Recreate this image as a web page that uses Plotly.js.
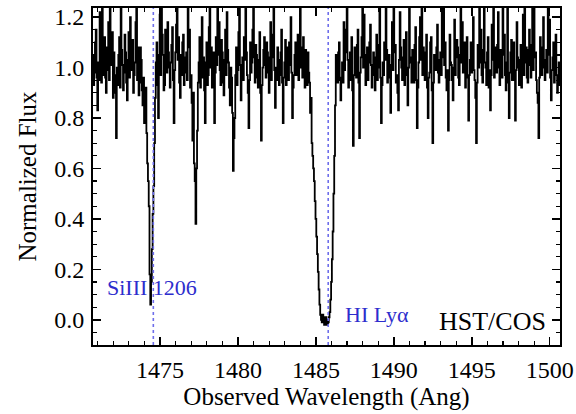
<!DOCTYPE html>
<html>
<head>
<meta charset="utf-8">
<script src="https://cdn.plot.ly/plotly-3.0.1.min.js"></script>
<style>html,body{margin:0;padding:0;background:#fff;}#chart{width:576px;height:414px;}</style>
</head>
<body>
<div id="chart"></div>
<script>
// Spectrum pixel grid (start wavelength and step, Angstrom)
const waveStart = 1470.7;
const waveStep = 0.05;
// Normalized flux, one row per Angstrom (20 pixels)
const flux = [
  1.05, 0.93, 0.98, 1.10, 1.15, 0.96, 0.83, 1.02, 0.95, 1.22, 1.10, 0.94, 1.28, 0.97, 1.02, 1.12, 0.96, 0.90, 1.08, 0.99,
  1.18, 0.95, 1.28, 1.01, 1.04, 1.14, 0.88, 1.06, 0.97, 0.90, 0.72, 1.00, 0.93, 1.05, 1.12, 0.92, 1.28, 1.07, 1.01, 0.91,
  0.98, 1.13, 1.06, 0.94, 0.87, 1.03, 1.14, 0.96, 1.20, 1.04, 0.99, 1.11, 0.90, 0.97, 1.02, 1.18, 1.28, 0.95, 1.08, 0.89,
  0.94, 1.08, 1.03, 0.91, 0.85, 0.96, 0.78, 0.88, 0.92, 0.74, 0.62, 0.55, 0.45, 0.18, 0.06, 0.15, 0.28, 0.42, 0.53, 0.70,
  0.88, 1.02, 1.10, 0.93, 0.80, 1.05, 1.21, 0.97, 1.28, 1.13, 1.05, 0.91, 0.93, 1.15, 1.09, 0.98, 1.18, 1.06, 1.00, 0.92,
  1.02, 1.09, 1.16, 0.95, 0.78, 0.99, 1.06, 1.17, 1.28, 1.03, 1.12, 0.94, 0.88, 1.05, 0.97, 1.10, 1.13, 0.93, 1.04, 0.98,
  1.06, 0.95, 1.28, 1.08, 1.15, 0.92, 0.97, 0.86, 0.71, 0.90, 0.62, 0.55, 0.38, 0.60, 0.75, 0.94, 1.02, 1.12, 0.92, 1.04,
  1.20, 0.96, 1.04, 0.91, 0.78, 1.02, 1.10, 0.93, 0.97, 1.16, 1.28, 1.00, 1.08, 0.92, 0.95, 1.06, 0.78, 0.98, 1.12, 1.01,
  1.28, 1.05, 1.18, 0.99, 0.93, 1.11, 1.06, 0.94, 0.89, 1.03, 1.15, 0.97, 1.22, 1.07, 1.02, 0.92, 0.85, 1.00, 0.96, 0.82,
  0.59, 0.72, 0.80, 0.97, 1.08, 0.93, 0.99, 1.14, 1.28, 1.01, 0.87, 0.98, 1.04, 0.95, 1.12, 1.03, 1.28, 1.06, 0.97, 0.90,
  0.76, 0.95, 1.10, 0.98, 1.02, 1.15, 1.28, 1.04, 0.94, 1.09, 1.05, 0.96, 0.92, 1.03, 1.14, 0.90, 0.71, 0.93, 1.00, 1.07,
  1.12, 1.01, 0.96, 1.10, 1.06, 0.98, 0.90, 1.04, 1.18, 0.95, 1.04, 1.13, 1.28, 0.99, 0.84, 1.00, 0.95, 1.08, 1.03, 0.93,
  0.97, 1.06, 1.15, 0.94, 0.78, 0.96, 1.02, 1.11, 0.93, 0.99, 1.08, 0.95, 1.10, 1.01, 1.20, 0.98, 0.80, 0.92, 0.97, 1.05,
  1.10, 0.97, 1.05, 1.13, 0.95, 1.04, 1.28, 1.00, 1.08, 0.96, 1.12, 1.02, 0.92, 1.07, 0.99, 0.93, 1.06, 0.98, 0.94, 0.82,
  0.88, 0.70, 0.65, 0.60, 0.55, 0.47, 0.40, 0.33, 0.26, 0.19, 0.12, 0.06, 0.02, 0.00, -0.01, 0.02, 0.01, -0.02, -0.02, 0.01,
  0.00, -0.02, -0.01, 0.01, 0.03, 0.08, 0.15, 0.24, 0.35, 0.50, 0.65, 0.85, 1.05, 0.98, 0.94, 1.06, 1.10, 0.95, 0.87, 0.96,
  1.02, 0.94, 1.18, 0.99, 1.06, 1.15, 1.28, 1.03, 0.92, 0.98, 1.06, 0.95, 1.12, 0.91, 0.69, 0.97, 1.08, 1.01, 0.96, 1.09,
  1.15, 0.94, 0.72, 0.98, 1.04, 1.12, 1.28, 1.00, 1.21, 1.05, 0.93, 0.99, 1.08, 0.95, 1.02, 1.10, 1.17, 1.01, 0.92, 0.97,
  1.06, 0.98, 0.91, 1.04, 1.13, 0.95, 1.00, 1.09, 1.28, 0.96, 0.78, 0.93, 1.02, 0.97, 1.10, 1.03, 1.28, 1.07, 0.94, 1.00,
  1.05, 0.96, 0.82, 1.01, 1.18, 0.99, 1.28, 1.06, 1.09, 0.94, 0.97, 0.90, 0.83, 1.03, 1.22, 1.08, 1.00, 0.95, 1.04, 1.11,
  0.93, 1.02, 1.14, 0.97, 0.85, 1.00, 1.28, 1.04, 1.02, 0.94, 1.07, 0.98, 0.94, 1.09, 1.16, 0.95, 0.76, 0.92, 1.02, 1.12,
  1.20, 1.03, 1.28, 0.97, 1.08, 1.00, 0.95, 1.06, 1.13, 0.92, 0.80, 0.96, 0.98, 1.10, 1.12, 0.91, 0.70, 0.94, 1.05, 1.01,
  0.99, 1.08, 1.17, 0.98, 0.94, 1.03, 1.06, 0.97, 1.28, 1.04, 1.28, 1.01, 1.10, 0.96, 0.91, 0.99, 0.75, 0.95, 1.13, 1.02,
  1.01, 0.95, 0.87, 1.00, 1.19, 0.97, 1.04, 1.11, 1.08, 0.96, 0.93, 1.05, 1.28, 1.02, 1.18, 0.98, 1.05, 1.10, 0.92, 1.03,
  1.12, 0.96, 0.79, 0.97, 1.03, 1.10, 0.98, 1.05, 1.20, 0.99, 0.95, 0.88, 0.70, 0.94, 1.09, 1.00, 1.28, 1.02, 1.15, 0.97,
  0.94, 1.07, 1.28, 1.02, 1.00, 0.93, 1.06, 1.12, 0.92, 0.99, 0.83, 0.97, 1.17, 1.03, 1.28, 0.96, 1.08, 1.01, 0.98, 1.09,
  1.22, 1.00, 0.93, 1.07, 1.04, 0.96, 1.28, 1.05, 1.13, 0.97, 0.91, 1.02, 1.28, 0.94, 0.80, 0.98, 1.06, 1.11, 0.95, 1.03,
  1.10, 0.95, 0.79, 0.99, 1.18, 1.04, 1.00, 0.93, 1.03, 1.09, 0.92, 1.01, 1.21, 0.97, 1.28, 1.02, 1.08, 0.96, 0.94, 1.07,
  1.15, 1.01, 0.96, 1.09, 1.28, 0.99, 1.28, 1.04, 1.06, 0.95, 0.90, 0.86, 0.72, 0.96, 1.12, 1.03, 0.97, 1.08, 1.20, 1.00,
  0.95, 1.03, 1.07, 0.98, 1.28, 1.05, 1.19, 0.96, 0.87, 0.99, 1.04, 1.10, 0.94, 1.02, 1.13, 0.97, 0.90, 0.96, 1.02, 0.93,
  0.95
];
// Marked transitions (observed wavelength) and labels
const lineWaves = [1474.57, 1485.79];
const lineLabels = ["SiIII 1206", "HI Ly\u03b1"];
const labelWaves = [1474.5, 1488.9];
const labelFlux = [0.127, 0.02];
const instrument = "HST/COS";
const instrumentPos = [1496.35, -0.005];

const wave = flux.map((_, i) => +(waveStart + i * waveStep).toFixed(2));

const serif = "Liberation Serif, Times New Roman, serif";
const blue = "rgb(45,45,205)";

const shapes = lineWaves.map(w => ({
  type: "line", xref: "x", yref: "paper", x0: w, x1: w, y0: 0, y1: 1,
  line: {color: "rgb(110,110,235)", width: 1.6, dash: "dot"}, layer: "above"
}));

const annotations = lineLabels.map((t, i) => ({
  x: labelWaves[i], y: labelFlux[i], xref: "x", yref: "y", text: t,
  showarrow: false, font: {family: serif, size: 22, color: blue}
}));
annotations.push({
  x: instrumentPos[0], y: instrumentPos[1], xref: "x", yref: "y", text: instrument,
  showarrow: false, font: {family: serif, size: 26, color: "#000"}
});

const trace = {
  x: wave, y: flux, type: "scatter", mode: "lines",
  line: {color: "#000", width: 1.8, shape: "hvh"},
  hoverinfo: "skip"
};

const axisCommon = {
  showgrid: false, zeroline: false, showline: true, linecolor: "#000", linewidth: 2,
  mirror: "allticks", ticks: "inside", ticklen: 8, tickwidth: 1.5, tickcolor: "#000",
  tickfont: {family: serif, size: 24, color: "#000"}
};

const layout = {
  width: 576, height: 414,
  margin: {l: 93, r: 16, t: 8, b: 69},
  paper_bgcolor: "#fff", plot_bgcolor: "#fff",
  showlegend: false,
  xaxis: Object.assign({}, axisCommon, {
    range: [1470.7, 1500.66], dtick: 5, tick0: 1475,
    ticklabelstandoff: 2,
    minor: {dtick: 1, ticks: "inside", ticklen: 4, tickwidth: 1.2, tickcolor: "#000"},
    title: {text: "Observed Wavelength (Ang)", font: {family: serif, size: 25, color: "#000"}, standoff: 2}
  }),
  yaxis: Object.assign({}, axisCommon, {
    range: [-0.1, 1.236], dtick: 0.2, tick0: 0, tickformat: ".1f",
    ticklabelstandoff: 2,
    minor: {dtick: 0.05, ticks: "inside", ticklen: 4, tickwidth: 1.2, tickcolor: "#000"},
    title: {text: "Normalized Flux", font: {family: serif, size: 25, color: "#000"}, standoff: 10}
  }),
  shapes: shapes,
  annotations: annotations
};

Plotly.newPlot("chart", [trace], layout, {displayModeBar: false, staticPlot: true});
</script>
</body>
</html>
